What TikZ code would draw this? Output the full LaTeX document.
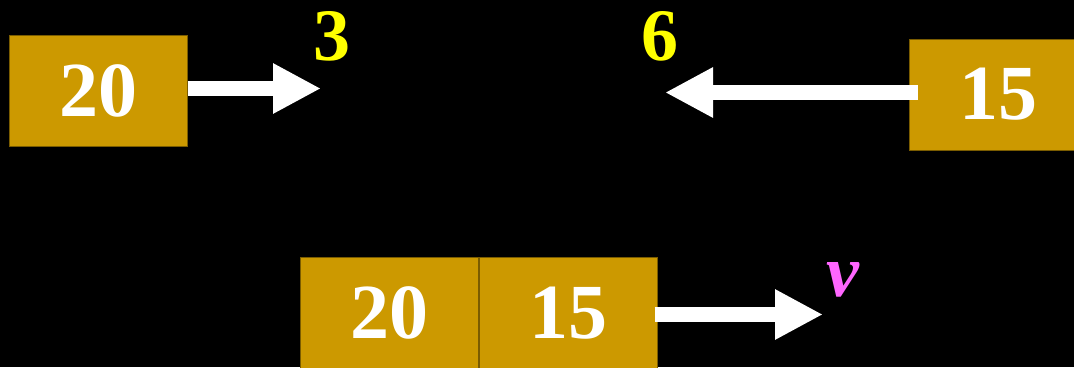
\documentclass[tikz,border=0pt]{standalone}
\usepackage{fontspec}
\setmainfont{Liberation Serif}
\usetikzlibrary{arrows.meta, positioning}

\definecolor{gold}{HTML}{CC9900}
\definecolor{goldedge}{HTML}{7A5C00}
\definecolor{labyellow}{HTML}{FFFF00}
\definecolor{labpink}{HTML}{FF66FF}

\tikzset{
    numbox/.style={fill=gold, draw=goldedge, line width=1pt, inner sep=0pt,
        minimum width=178pt, minimum height=111pt, text=white,
        font=\bfseries\fontsize{78}{80}\selectfont},
    bigarrow/.style={draw=white, line width=15pt,
        -{Triangle[length=48pt, width=47pt]}},
    lab/.style={inner sep=0pt, font=\bfseries\fontsize{74}{76}\selectfont}
}

\begin{document}
\begin{tikzpicture}[x=1pt, y=-1pt]

% 背景
\useasboundingbox (0,0) rectangle (1074,367);
\fill[black] (0,0) rectangle (1074,367);
\clip (0,0) rectangle (1074,367);

% 上排
\node[numbox] (a) at (98,90.5) {20};
\node[numbox] (b) at (998,94.5) {15};

\coordinate (tipa) at (321,88.5);
\coordinate (tipb) at (665,92.5);

\draw[bigarrow] (tipa -| a.east) -- (tipa);
\draw[bigarrow, shorten <=-9pt] (tipb -| b.west) -- (tipb);

\node[lab, text=labyellow] (three) at (332,36) {3};
\node[lab, text=labyellow] (six) at (660,36) {6};

% 下排
\node[numbox] (c) at (389,313) {20};
\node[numbox, right=0pt of c] (d) {15};

\coordinate (tipc) at (823,314.5);
\draw[bigarrow, shorten <=-3pt] (tipc -| d.east) -- (tipc);

\node[lab, text=labpink, font=\bfseries\itshape\fontsize{74}{76}\selectfont]
    (v) at (843,280) {v};

\end{tikzpicture}
\end{document}
